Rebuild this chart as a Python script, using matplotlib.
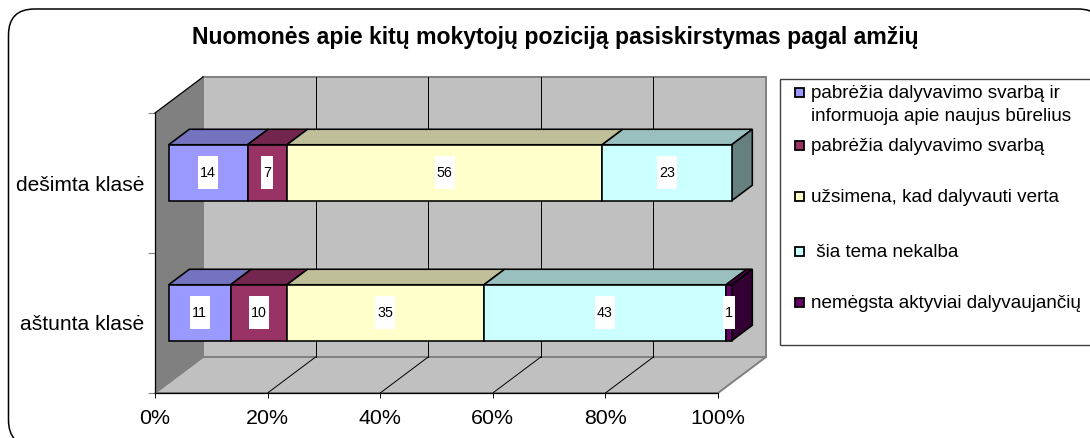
import matplotlib
matplotlib.use("Agg")
import matplotlib.pyplot as plt
from matplotlib.patches import Polygon, Rectangle, FancyBboxPatch
from matplotlib.colors import to_rgb

plt.rcParams['font.family'] = ['Liberation Sans', 'DejaVu Sans']

title = "Nuomonės apie kitų mokytojų poziciją pasiskirstymas pagal amžių"
categories = ["aštunta klasė", "dešimta klasė"]
series_names = ["pabrėžia dalyvavimo svarbą ir\ninformuoja apie naujus būrelius",
                "pabrėžia dalyvavimo svarbą",
                "užsimena, kad dalyvauti verta",
                " šia tema nekalba",
                "nemėgsta aktyviai dalyvaujančių"]
colors = ["#9999FF", "#993366", "#FFFFCC", "#CCFFFF", "#660066"]
values_8 = [11, 10, 35, 43, 1]
values_10 = [14, 7, 56, 23, 0]
rows = [values_8, values_10]
pct_ticks = [0, 20, 40, 60, 80, 100]

W, H = 1090, 438
fig = plt.figure(figsize=(W / 100, H / 100), dpi=100, facecolor="white")

# full-figure overlay in pixels for frame, title and legend
ov = fig.add_axes([0, 0, 1, 1], zorder=0)
ov.set_xlim(0, W); ov.set_ylim(H, 0); ov.axis("off")
ov.add_patch(FancyBboxPatch((8.5 + 26, 9 + 26), 1043.5, 385, boxstyle="round,pad=26,rounding_size=26",
                            fc="white", ec="black", lw=1.1))
ov.text(555.5, 37.5, title, ha="center", va="center", fontsize=16.6, fontweight="bold", color="black")

# legend
ov.add_patch(Rectangle((780, 79), 330, 266, fc="white", ec="#404040", lw=1.0))
leg_y = [92, 145, 196, 251, 302]
for name, c, y in zip(series_names, colors, leg_y):
    ov.add_patch(Rectangle((795, y - 4.5), 9, 9, fc=c, ec="black", lw=1.3))
    for i, line in enumerate(name.split("\n")):
        ov.text(811, y + 1.5 + i * 23, line, ha="left", va="center", fontsize=13.6, color="black")

# plot axes: front plane of the 3-D box
ax = fig.add_axes([155 / W, 1 - 393 / H, 563 / W, 280 / H], zorder=1)
ax.set_xlim(0, 100); ax.set_ylim(0, 2); ax.patch.set_alpha(0)
for s in ("top", "right"):
    ax.spines[s].set_visible(False)
for s in ("left", "bottom"):
    ax.spines[s].set_linewidth(0.9)
DX, DY = 48 / 5.63, 36 / 140   # depth vector in data units

def pt(v, y, d=0.0):
    return (v + DX * d, y + DY * d)

def poly(points, fc, ec, lw=1.0, z=1):
    ax.add_patch(Polygon(points, closed=True, fc=fc, ec=ec, lw=lw, zorder=z, clip_on=False, joinstyle="miter"))

GREY = "#C0C0C0"
poly([pt(0, 0, 1), pt(100, 0, 1), pt(100, 2, 1), pt(0, 2, 1)], GREY, "#808080", 1.4)     # back wall
poly([pt(0, 0, 0), pt(100, 0, 0), pt(100, 0, 1), pt(0, 0, 1)], GREY, "#808080", 1.4)     # floor
poly([pt(0, 0, 0), pt(0, 2, 0), pt(0, 2, 1), pt(0, 0, 1)], "#808080", "none")            # side wall
ax.plot(*zip(pt(0, 2, 0), pt(0, 2, 1)), color="black", lw=0.9, zorder=2, clip_on=False)
for t in pct_ticks[1:-1]:
    ax.plot(*zip(pt(t, 0, 1), pt(t, 2, 1)), color="black", lw=0.7, zorder=2, clip_on=False)
    ax.plot(*zip(pt(t, 0, 0), pt(t, 0, 1)), color="black", lw=0.7, zorder=2, clip_on=False)

# stacked 3-D bars
HALF = 0.2
D0, D1 = 0.285, 0.715
def shade(c, f):
    return tuple(x * f for x in to_rgb(c))

z = 3
for yc, vals in zip([0.5, 1.5], rows):
    left = 0
    nz = [i for i, v in enumerate(vals) if v > 0]
    for i in nz:
        v, c = vals[i], colors[i]
        r = left + v
        lo, hi = yc - HALF, yc + HALF
        poly([pt(left, hi, D0), pt(r, hi, D0), pt(r, hi, D1), pt(left, hi, D1)], shade(c, 0.75), "black", 1.15, z)
        if i == nz[-1]:
            poly([pt(r, lo, D0), pt(r, hi, D0), pt(r, hi, D1), pt(r, lo, D1)], shade(c, 0.5), "black", 1.15, z)
        poly([pt(left, lo, D0), pt(r, lo, D0), pt(r, hi, D0), pt(left, hi, D0)], c, "black", 1.15, z)
        left = r
    left = 0
    for i in nz:
        v = vals[i]
        cx, cy = pt(left + v / 2, yc, D0)
        bw = (len(str(v)) * 8 + 4) / 5.63
        bh = 33 / 140
        ax.add_patch(Rectangle((cx - bw / 2, cy - bh / 2), bw, bh, fc="white", ec="none", zorder=z + 1, clip_on=False))
        ax.text(cx, cy, str(v), ha="center", va="center", fontsize=10.3, color="black", zorder=z + 2, clip_on=False)
        left += v

ax.set_xticks(pct_ticks, [f"{t}%" for t in pct_ticks])
ax.tick_params(axis="x", length=3.6, width=0.7, pad=8, labelsize=15.4)
ax.set_yticks([0, 1, 2], ["", "", ""])
ax.tick_params(axis="y", which="major", length=5, width=0.8, color="#808080")
ax.set_yticks([0.5, 1.5], categories, minor=True)
ax.tick_params(axis="y", which="minor", length=0, pad=8, labelsize=15.1)

fig.savefig("out.png", dpi=100)
